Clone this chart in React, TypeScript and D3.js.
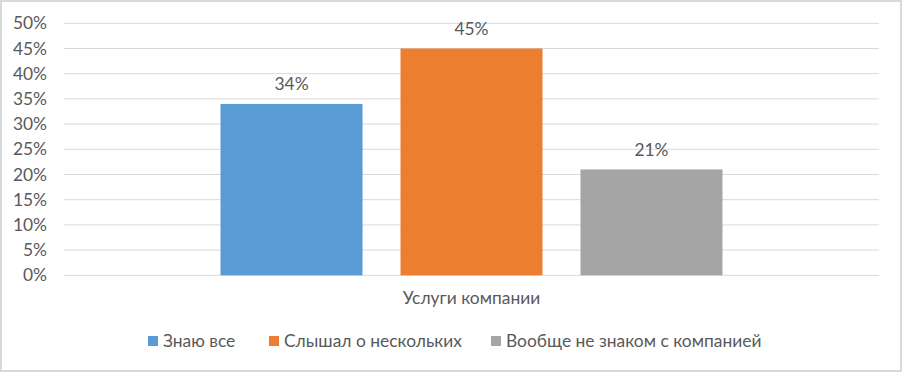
import React from 'react';
import * as d3 from 'd3';

// chart data
const categories = ['Услуги компании'];
const seriesNames = ['Знаю все', 'Слышал о нескольких', 'Вообще не знаком с компанией'];
const seriesValues = [0.34, 0.45, 0.21];
const seriesColors = ['#5b9bd5', '#ed7d31', '#a5a5a5'];
const yTicks = [0, 0.05, 0.1, 0.15, 0.2, 0.25, 0.3, 0.35, 0.4, 0.45, 0.5];

const W = 902;
const H = 372;
const FONT = 'Lato, "Open Sans", sans-serif';
const FS = 17.4;
const TEXT = '#595959';

const App = () => {
  const x0 = d3.scaleBand().domain(categories).range([64, 879]).paddingInner(0).paddingOuter(0.3118);
  const x1 = d3.scaleBand().domain(seriesNames).range([0, x0.bandwidth()]).paddingInner(0.211).paddingOuter(0);
  const y = d3.scaleLinear().domain([0, 0.5]).range([275.3, 23.3]);
  const pct = d3.format('.0%');

  // legend layout: start x of each item
  const legendX = [148, 269, 491];

  return (
    <svg width={W} height={H} style={{ position: 'absolute', left: 0, top: 0 }} fontFamily={FONT}>
      <rect x={0} y={0} width={W} height={H} fill="#fff" />
      <rect x={1} y={1} width={W - 2} height={H - 2} fill="none" stroke="#d9d9d9" strokeWidth={2} />

      {yTicks.map((t) => (
        <g key={t}>
          <line x1={64} x2={879} y1={y(t)} y2={y(t)} stroke="#d9d9d9" strokeWidth={1} />
          <text x={47} y={y(t)} dy="0.35em" textAnchor="end" fontSize={FS} fill={TEXT}>
            {pct(t)}
          </text>
        </g>
      ))}

      {categories.map((c) => (
        <g key={c} transform={`translate(${x0(c)},0)`}>
          {seriesNames.map((s, i) => (
            <g key={s}>
              <rect
                x={x1(s)}
                y={y(seriesValues[i])}
                width={x1.bandwidth()}
                height={y(0) - y(seriesValues[i])}
                fill={seriesColors[i]}
              />
              <text
                x={(x1(s) || 0) + x1.bandwidth() / 2}
                y={y(seriesValues[i]) - 20}
                dy="0.35em"
                textAnchor="middle"
                fontSize={FS}
                fill={TEXT}
              >
                {pct(seriesValues[i])}
              </text>
            </g>
          ))}
          <text x={x0.bandwidth() / 2} y={298} dy="0.35em" textAnchor="middle" fontSize={FS} fill={TEXT}>
            {c}
          </text>
        </g>
      ))}

      {seriesNames.map((s, i) => (
        <g key={s} transform={`translate(${legendX[i]},341)`}>
          <rect x={0} y={-5} width={10} height={10} fill={seriesColors[i]} />
          <text x={15} y={0} dy="0.35em" fontSize={FS} fill={TEXT}>
            {s}
          </text>
        </g>
      ))}
    </svg>
  );
};

export default App;
